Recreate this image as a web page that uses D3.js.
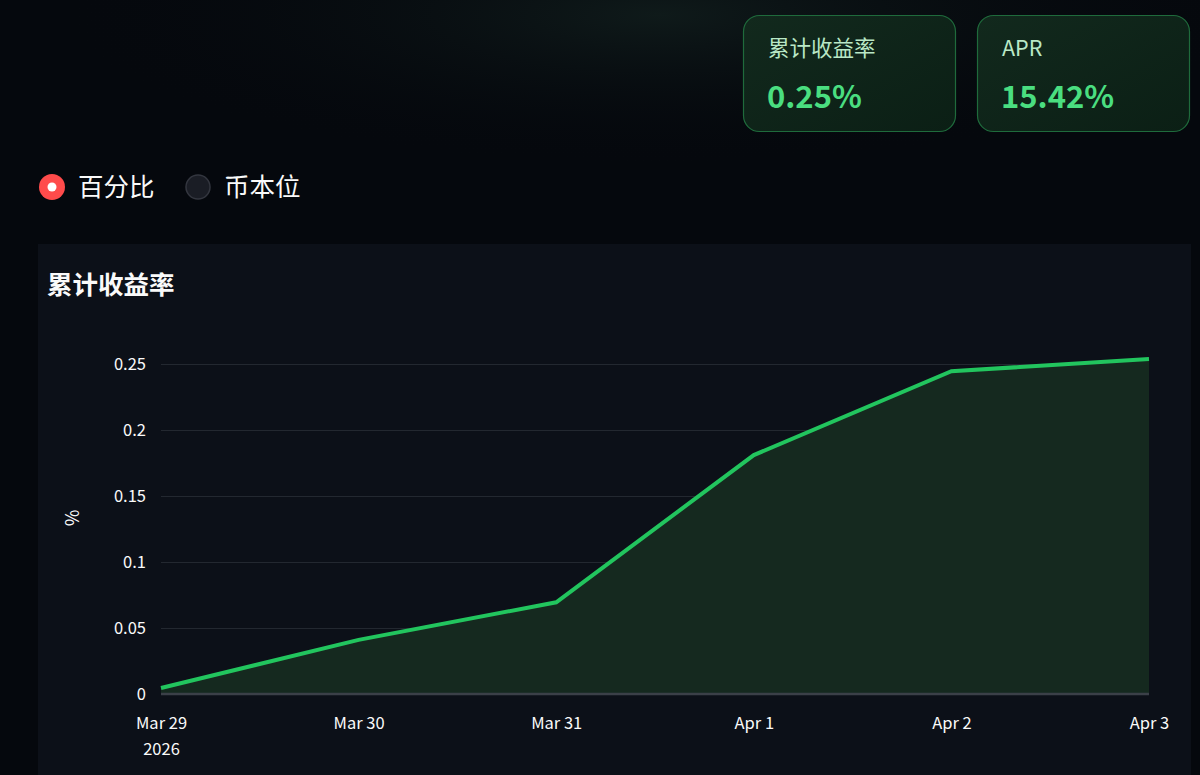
<!DOCTYPE html>
<html><head><meta charset="utf-8">
<script src="https://cdn.jsdelivr.net/npm/d3@7"></script>
<style>
html,body{margin:0;padding:0;background:#05080d;}
svg{display:block;}
</style></head>
<body>
<svg id="c" width="1200" height="775"></svg>
<script>
const dates = ["2026-03-29","2026-03-30","2026-03-31","2026-04-01","2026-04-02","2026-04-03"];
const cumReturn = [0.0045, 0.041, 0.0695, 0.181, 0.2445, 0.2538];
const yTicks = [0, 0.05, 0.1, 0.15, 0.2, 0.25];
const yTickLabels = ["0","0.05","0.1","0.15","0.2","0.25"];
const xTickLabels = ["Mar 29","Mar 30","Mar 31","Apr 1","Apr 2","Apr 3"];
const cardLabels = ["累计收益率","APR"];
const cardValues = ["0.25%","15.42%"];
const radioLabels = ["百分比","币本位"];
const chartTitle = "累计收益率";
const yAxisTitle = "%";

const FONT = "'Noto Sans CJK SC','Noto Sans',sans-serif";
const svg = d3.select("#c");
const defs = svg.append("defs");

// background glow
const rg = defs.append("radialGradient").attr("id","glow").attr("cx","0.55").attr("cy","0.05").attr("r","0.5");
rg.append("stop").attr("offset","0").attr("stop-color","#0f1a1a").attr("stop-opacity",1);
rg.append("stop").attr("offset","1").attr("stop-color","#05080d").attr("stop-opacity",0);
svg.append("rect").attr("width",1200).attr("height",775).attr("fill","#05080d");
svg.append("rect").attr("width",1200).attr("height",300).attr("fill","url(#glow)");

// cards
const cg = defs.append("linearGradient").attr("id","card").attr("x1",0).attr("y1",0).attr("x2",1).attr("y2",1);
cg.append("stop").attr("offset","0").attr("stop-color","#12291d");
cg.append("stop").attr("offset","1").attr("stop-color","#0b1f15");
const cardX = [743, 977];
cardLabels.forEach((lab,i)=>{
  const g = svg.append("g").attr("transform",`translate(${cardX[i]},15)`);
  g.append("rect").attr("x",0.5).attr("y",0.5).attr("width",212).attr("height",116).attr("rx",16)
    .attr("fill","url(#card)").attr("stroke","#1f6b3c").attr("stroke-width",1.2);
  g.append("text").attr("x",25).attr("y",41).attr("fill","#b9e8c6").attr("font-size",21.5)
    .attr("font-family",FONT).text(lab);
  g.append("text").attr("x",24).attr("y",93).attr("fill","#4ade80").attr("font-size",31)
    .attr("font-weight","bold").attr("font-family",FONT).text(cardValues[i]);
});

// radios
const rx = [52, 198];
radioLabels.forEach((lab,i)=>{
  if(i===0){
    svg.append("circle").attr("cx",rx[i]).attr("cy",187).attr("r",13).attr("fill","#ff4b4b");
    svg.append("circle").attr("cx",rx[i]).attr("cy",187).attr("r",4.5).attr("fill","#ffffff");
  } else {
    svg.append("circle").attr("cx",rx[i]).attr("cy",187).attr("r",12).attr("fill","#1a1d25").attr("stroke","#33363f").attr("stroke-width",1.5);
  }
  svg.append("text").attr("x",rx[i]+26).attr("y",196).attr("fill","#fafafa").attr("font-size",25.5)
    .attr("font-family",FONT).text(lab);
});

// chart panel
svg.append("rect").attr("x",38).attr("y",244).attr("width",1153).attr("height",540).attr("fill","#0c1018");
svg.append("text").attr("x",47).attr("y",294).attr("fill","#fafafa").attr("font-size",25.5).attr("font-weight","bold")
  .attr("font-family",FONT).text(chartTitle);

const parse = d3.timeParse("%Y-%m-%d");
const data = dates.map((d,i)=>({date:parse(d), v:cumReturn[i]}));
const x = d3.scaleTime().domain(d3.extent(data,d=>d.date)).range([161,1149]);
const y = d3.scaleLinear().domain([0,0.25]).range([694,364]);

// gridlines
const grid = svg.append("g").attr("transform","translate(161,0)")
  .call(d3.axisLeft(y).tickValues(yTicks.slice(1)).tickSize(-988).tickFormat(""));
grid.select(".domain").remove();
grid.selectAll("line").attr("stroke","#232830").attr("stroke-width",1);

// area
svg.append("path").datum(data).attr("fill","#15291f")
  .attr("d",d3.area().x(d=>x(d.date)).y0(y(0)).y1(d=>y(d.v)));

// zero line
svg.append("line").attr("x1",161).attr("x2",1149).attr("y1",y(0)).attr("y2",y(0))
  .attr("stroke","#3b4048").attr("stroke-width",2.5);

// line
svg.append("path").datum(data).attr("fill","none").attr("stroke","#22c55e").attr("stroke-width",4)
  .attr("stroke-linejoin","miter")
  .attr("d",d3.line().x(d=>x(d.date)).y(d=>y(d.v)));

// y axis labels
const ya = svg.append("g").attr("transform","translate(149,0)")
  .call(d3.axisLeft(y).tickValues(yTicks).tickSize(0).tickFormat((d,i)=>yTickLabels[i]));
ya.select(".domain").remove();
ya.selectAll("text").attr("fill","#fafafa").attr("font-size",16.5).attr("font-family",FONT).attr("dy","0.35em");

// x axis labels
const xa = svg.append("g").attr("transform","translate(0,714)")
  .call(d3.axisBottom(x).tickValues(data.map(d=>d.date)).tickSize(0).tickFormat((d,i)=>xTickLabels[i]));
xa.select(".domain").remove();
xa.selectAll("text").attr("fill","#fafafa").attr("font-size",16.5).attr("font-family",FONT).attr("dy","0.71em");
xa.select(".tick text").append("tspan").attr("x",0).attr("dy","1.6em").text("2026");

// y axis title
svg.append("text").attr("transform","translate(79,518) rotate(-90)").attr("text-anchor","middle")
  .attr("fill","#fafafa").attr("font-size",18).attr("font-family",FONT).text(yAxisTitle);
</script>
</body></html>
